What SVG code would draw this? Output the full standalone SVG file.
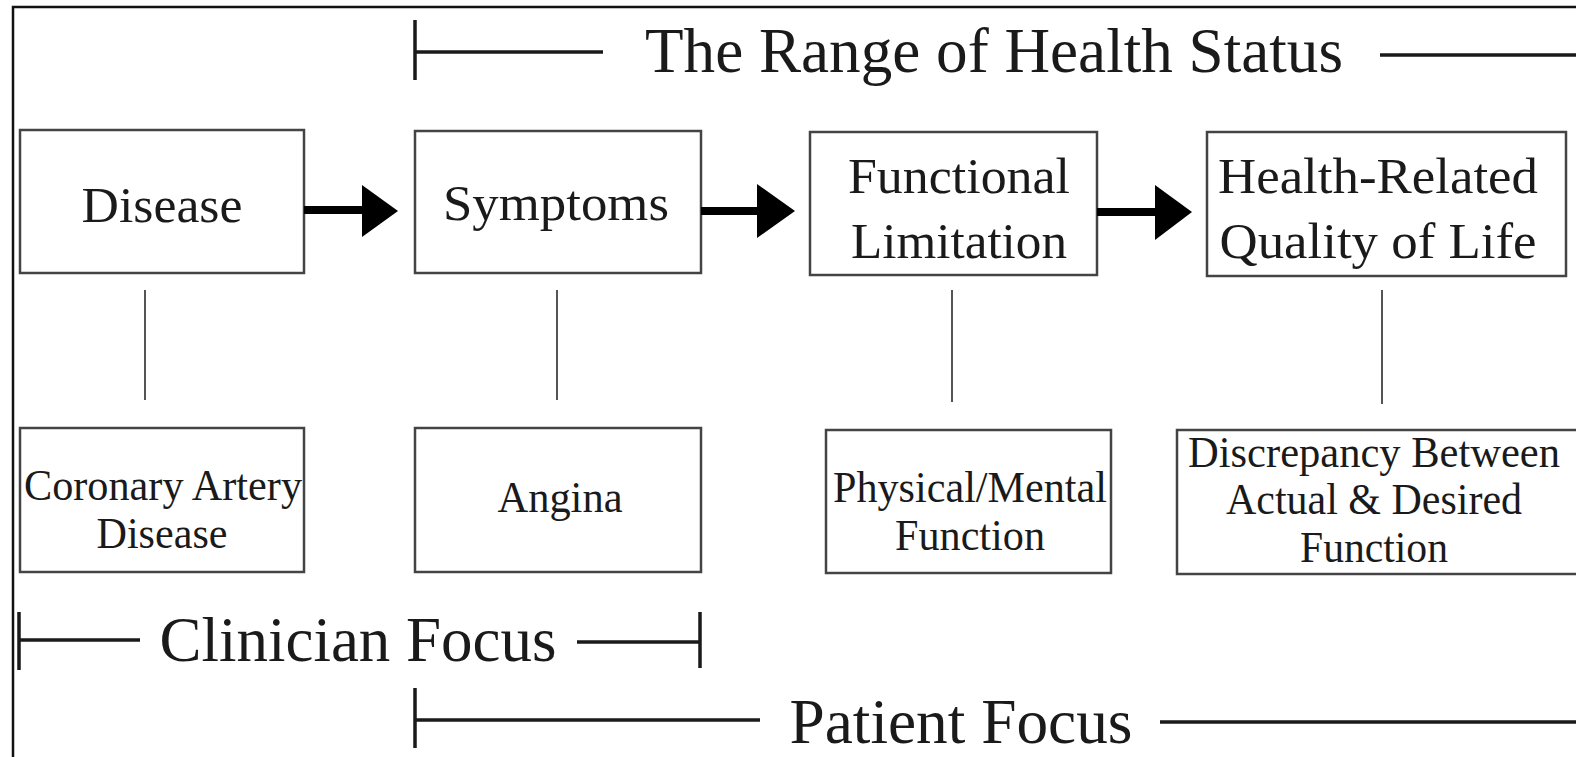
<svg xmlns="http://www.w3.org/2000/svg" width="1576" height="757" viewBox="0 0 1576 757">
<style>
.frame{fill:none;stroke:#111;stroke-width:2.5}
.box rect{fill:#fff;stroke:#444;stroke-width:2.5}
.t{font-family:"Liberation Serif","Times New Roman",serif;fill:#1a1a1a;text-anchor:middle}
.big{font-size:63px}
.mid{font-size:51px}
.sm{font-size:44px}
.bar{stroke:#1a1a1a;stroke-width:3.5;fill:none}
.link{stroke:#555;stroke-width:2;fill:none}
.shaft{stroke:#000;stroke-width:8;fill:none}
.head{fill:#000}
</style>
<rect width="1576" height="757" fill="#fff"/>
<path class="frame" d="M13,757 V7 H1576"/>

<g id="range-bar">
<path class="bar" d="M415,20 V80 M415,52 H603 M1380,55 H1576"/>
<text class="t big" x="994" y="72" textLength="698" lengthAdjust="spacingAndGlyphs">The Range of Health Status</text>
</g>

<g id="disease" class="box">
<rect x="20" y="130" width="284" height="143"/>
<text class="t mid" x="162" y="222" textLength="161" lengthAdjust="spacingAndGlyphs">Disease</text>
</g>
<g id="symptoms" class="box">
<rect x="415" y="131" width="286" height="142"/>
<text class="t mid" x="556" y="220" textLength="226" lengthAdjust="spacingAndGlyphs">Symptoms</text>
</g>
<g id="functional-limitation" class="box">
<rect x="810" y="132" width="287" height="143"/>
<text class="t mid" x="959" y="193" textLength="222" lengthAdjust="spacingAndGlyphs">Functional</text>
<text class="t mid" x="959" y="258" textLength="216" lengthAdjust="spacingAndGlyphs">Limitation</text>
</g>
<g id="hrqol" class="box">
<rect x="1207" y="132" width="359" height="144"/>
<text class="t mid" x="1378" y="193" textLength="320" lengthAdjust="spacingAndGlyphs">Health-Related</text>
<text class="t mid" x="1378" y="258" textLength="317" lengthAdjust="spacingAndGlyphs">Quality of Life</text>
</g>

<g id="cad" class="box">
<rect x="20" y="428" width="284" height="144"/>
<text class="t sm" x="163" y="500" textLength="278" lengthAdjust="spacingAndGlyphs">Coronary Artery</text>
<text class="t sm" x="162" y="548" textLength="131" lengthAdjust="spacingAndGlyphs">Disease</text>
</g>
<g id="angina" class="box">
<rect x="415" y="428" width="286" height="144"/>
<text class="t sm" x="560" y="512" textLength="125" lengthAdjust="spacingAndGlyphs">Angina</text>
</g>
<g id="physical-mental" class="box">
<rect x="826" y="430" width="285" height="143"/>
<text class="t sm" x="970" y="502" textLength="274" lengthAdjust="spacingAndGlyphs">Physical/Mental</text>
<text class="t sm" x="970" y="550" textLength="150" lengthAdjust="spacingAndGlyphs">Function</text>
</g>
<g id="discrepancy" class="box">
<rect x="1177" y="430" width="410" height="144"/>
<text class="t sm" x="1374" y="467" textLength="372" lengthAdjust="spacingAndGlyphs">Discrepancy Between</text>
<text class="t sm" x="1374" y="514" textLength="296" lengthAdjust="spacingAndGlyphs">Actual &amp; Desired</text>
<text class="t sm" x="1374" y="562" textLength="148" lengthAdjust="spacingAndGlyphs">Function</text>
</g>

<g id="connectors">
<path class="shaft" d="M304,210 H366"/>
<polygon class="head" points="362,185 398,211 362,237"/>
<path class="shaft" d="M701,211 H761"/>
<polygon class="head" points="757,184 795,211 757,238"/>
<path class="shaft" d="M1097,212 H1158"/>
<polygon class="head" points="1155,185 1192,212 1155,240"/>
<path class="link" d="M145,290 V400 M557,290 V400 M952,290 V402 M1382,290 V404"/>
</g>

<g id="clinician-focus">
<path class="bar" d="M19,612 V670 M19,640 H140 M577,642 H700 M700,612 V668"/>
<text class="t big" x="358" y="661" textLength="397" lengthAdjust="spacingAndGlyphs">Clinician Focus</text>
</g>

<g id="patient-focus">
<path class="bar" d="M415,688 V748 M415,720 H760 M1160,722 H1576"/>
<text class="t big" x="961" y="743" textLength="343" lengthAdjust="spacingAndGlyphs">Patient Focus</text>
</g>
</svg>
